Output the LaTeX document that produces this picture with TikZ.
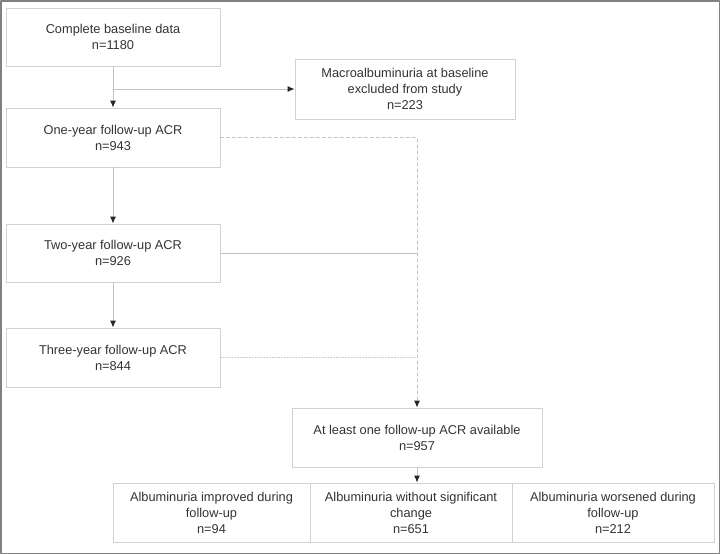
\documentclass[tikz,border=0pt]{standalone}
\usepackage{fontspec}
\setmainfont{Liberation Sans}
\usetikzlibrary{arrows.meta}
\usetikzlibrary{positioning}
\definecolor{boxgray}{rgb}{0.82, 0.82, 0.82}
\definecolor{linegray}{rgb}{0.76, 0.76, 0.76}
\definecolor{textgray}{rgb}{0.2, 0.2, 0.2}
\definecolor{framegray}{rgb}{0.5, 0.5, 0.5}

\begin{document}
\begin{tikzpicture}[line cap=round,line join=round, x=1pt,y=-1pt,
  box/.style={draw=boxgray, line width=0.9pt, align=center, inner sep=0pt, text=textgray,
    font=\fontsize{12.8}{16}\selectfont, minimum width=214pt, minimum height=58pt},
  link/.style={draw=linegray, line width=0.9pt},
  arr/.style={-{Latex[length=7pt, width=6pt, color=black!85]}}]
\useasboundingbox (0,0) rectangle (720,554);
\draw [color=framegray, line width=1.5pt] (0.75,0.75) rectangle (719.25,553.25);
\node[box] (base) at (113,37) {Complete baseline data\\n=1180};
\node[box, minimum width=220pt, minimum height=60pt] (macro) at (405,89) {Macroalbuminuria at baseline\\excluded from study\\n=223};
\node[box, minimum height=59pt] (one) at (113,137.5) {One-year follow-up ACR\\n=943};
\node[box] (two) at (113,253) {Two-year follow-up ACR\\n=926};
\node[box, minimum height=59pt] (three) at (113,357.5) {Three-year follow-up ACR\\n=844};
\node[box, minimum width=250pt, minimum height=59pt] (least) at (417,437.5) {At least one follow-up ACR available\\n=957};
\node[box, minimum width=197pt, minimum height=59pt] (better) at (211.5,512.5) {Albuminuria improved during\\follow-up\\n=94};
\node[box, minimum width=202pt, minimum height=59pt] (same) at (411,512.5) {Albuminuria without significant\\change\\n=651};
\node[box, minimum width=202pt, minimum height=59pt] (worse) at (613,512.5) {Albuminuria worsened during\\follow-up\\n=212};
\coordinate (split) at (base.south |- macro.west);
\draw [link, arr] (base) -- (one);
\draw [link, arr] (split) -- (macro);
\draw [link, arr] (one) -- (two);
\draw [link, arr] (two) -- (three);
\draw [link, dashed, arr] (one.east) -- (one.east -| least.north) -- (least.north);
\draw [link] (two.east) -- (two.east -| least.north);
\draw [link, dotted] (three.east) -- (three.east -| least.north);
\draw [link, arr] (least.south) -- (least.south |- same.north);
\end{tikzpicture}
\end{document}
